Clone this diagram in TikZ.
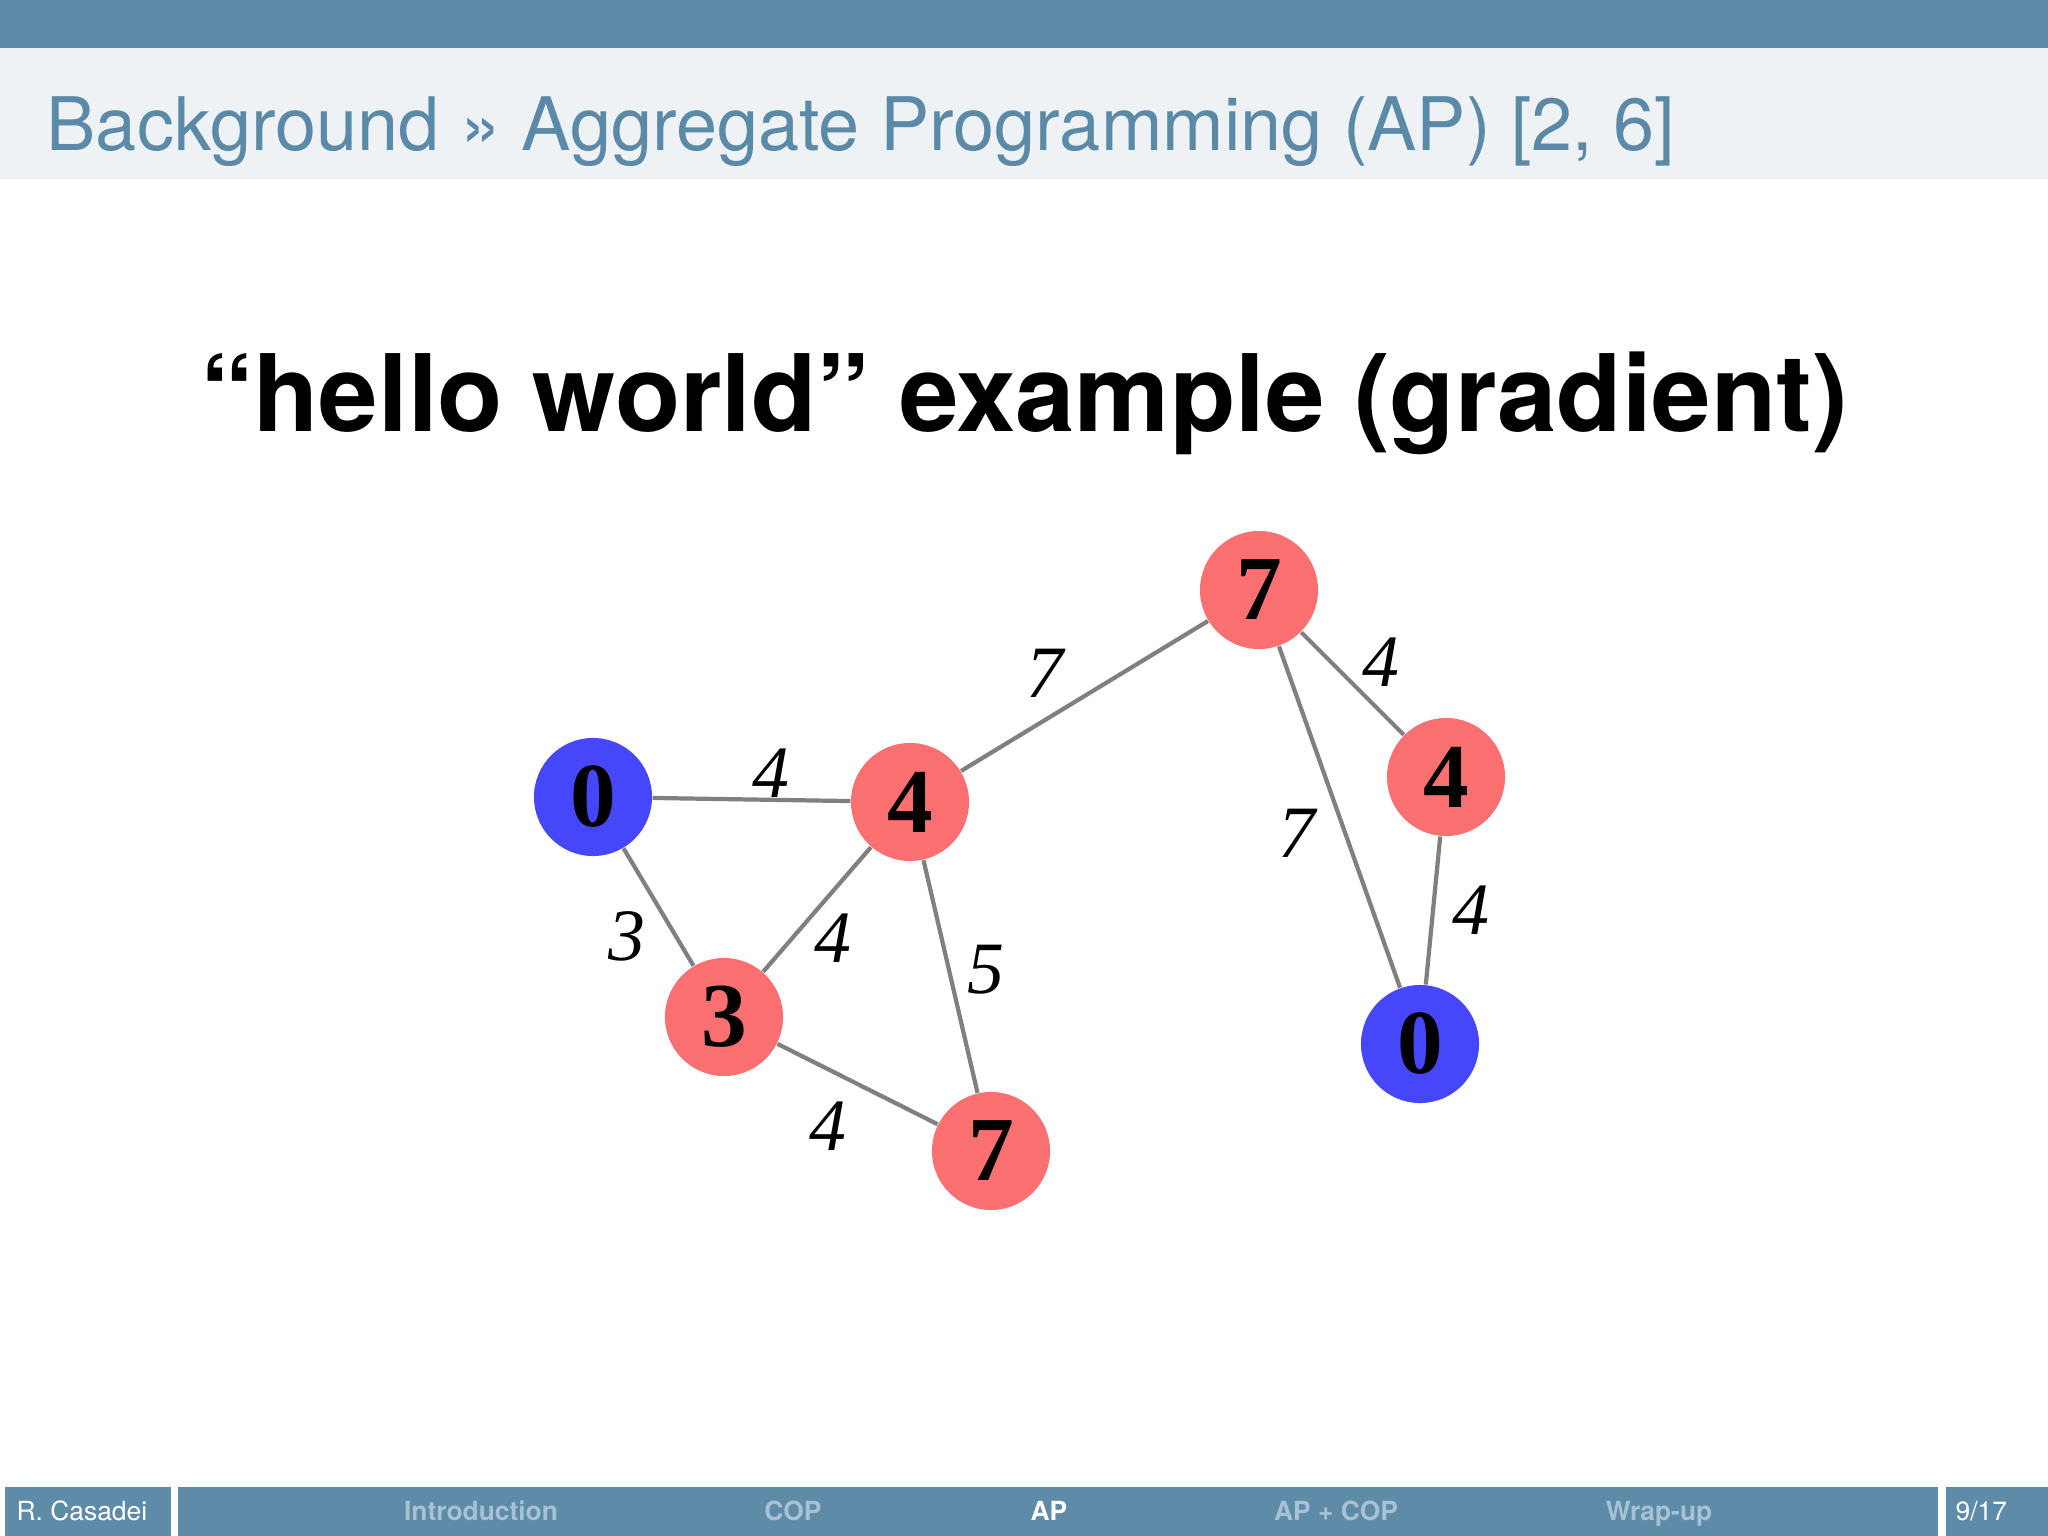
\documentclass[tikz,border=0pt]{standalone}
\usepackage{fontspec}
\setmainfont{TeX Gyre Heros}
\newfontfamily\timesfont{Liberation Serif}
\usepackage{tikz}

\definecolor{barblue}{RGB}{94,139,167}
\definecolor{headbg}{RGB}{238,242,245}
\definecolor{titleblue}{RGB}{91,138,168}
\definecolor{navdim}{RGB}{168,193,212}
\definecolor{nodered}{RGB}{250,112,112}
\definecolor{nodeblue}{RGB}{70,70,250}

\begin{document}
\begin{tikzpicture}[
    x=0.01cm,y=-0.01cm,
    vertex/.style={circle,inner sep=0pt,minimum size=1.18cm,
      font=\timesfont\bfseries\fontsize{26}{30}\selectfont},
    red node/.style={vertex,fill=nodered},
    blue node/.style={vertex,fill=nodeblue},
    edge/.style={line width=1.2pt, gray},
    weight/.style={inner sep=0pt,font=\timesfont\itshape\fontsize{21}{25}\selectfont},
    foot/.style={anchor=base,inner sep=0pt,text=white,font=\fontsize{7.5}{9}\selectfont},
    nav/.style={foot,text=navdim,font=\fontsize{7.5}{9}\selectfont\bfseries}
    ]
    \useasboundingbox[fill=white] (0,0) rectangle (2048,1536);
    \fill[barblue] (0,0) rectangle (2048,48);
    \fill[headbg] (0,48) rectangle (2048,179);
    \node[anchor=base west,inner sep=0pt,text=titleblue,font=\fontsize{21}{25}\selectfont]
      (title) at (46,150) {Background » Aggregate Programming (AP) [2, 6]};
    \node[anchor=base,inner sep=0pt,font=\fontsize{30.4}{36}\selectfont\bfseries]
      (heading) at (1024,431) {“hello world” example (gradient)};

    \node[blue node] (a) at (593,797) {0};
    \node[red node] (b) at (910,802) {4};
    \node[red node] (c) at (724,1017) {3};
    \node[red node] (d) at (991,1151) {7};
    \node[red node] (e) at (1259,590) {7};
    \node[red node] (f) at (1446,777) {4};
    \node[blue node] (g) at (1420,1044) {0};
    \draw[edge] (a) -- (b);
    \draw[edge] (a) -- (c);
    \draw[edge] (b) -- (c);
    \draw[edge] (c) -- (d);
    \draw[edge] (b) -- (d);
    \draw[edge] (b) -- (e);
    \draw[edge] (e) -- (f);
    \draw[edge] (e) -- (g);
    \draw[edge] (f) -- (g);
    \node[weight] (wab) at (771,773) {4};
    \node[weight] (wac) at (627,936) {3};
    \node[weight] (wbc) at (833,938) {4};
    \node[weight] (wcd) at (828,1126) {4};
    \node[weight] (wbd) at (986,970) {5};
    \node[weight] (wbe) at (1045,673) {7};
    \node[weight] (wef) at (1381,662) {4};
    \node[weight] (weg) at (1297,833) {7};
    \node[weight] (wfg) at (1471,910) {4};

    \fill[barblue] (5,1487) rectangle (171,1536);
    \fill[barblue] (178,1487) rectangle (1938,1536);
    \fill[barblue] (1946,1487) rectangle (2048,1536);
    \node[foot,anchor=base west] (author) at (16,1520) {R. Casadei};
    \node[nav] (intro) at (481,1520) {Introduction};
    \node[nav] (cop) at (793,1520) {COP};
    \node[nav,text=white] (ap) at (1049,1520) {AP};
    \node[nav] (apcop) at (1336,1520) {AP + COP};
    \node[nav] (wrap) at (1659,1520) {Wrap-up};
    \node[foot,anchor=base west] (page) at (1955,1520) {9/17};
  \end{tikzpicture}
\end{document}
